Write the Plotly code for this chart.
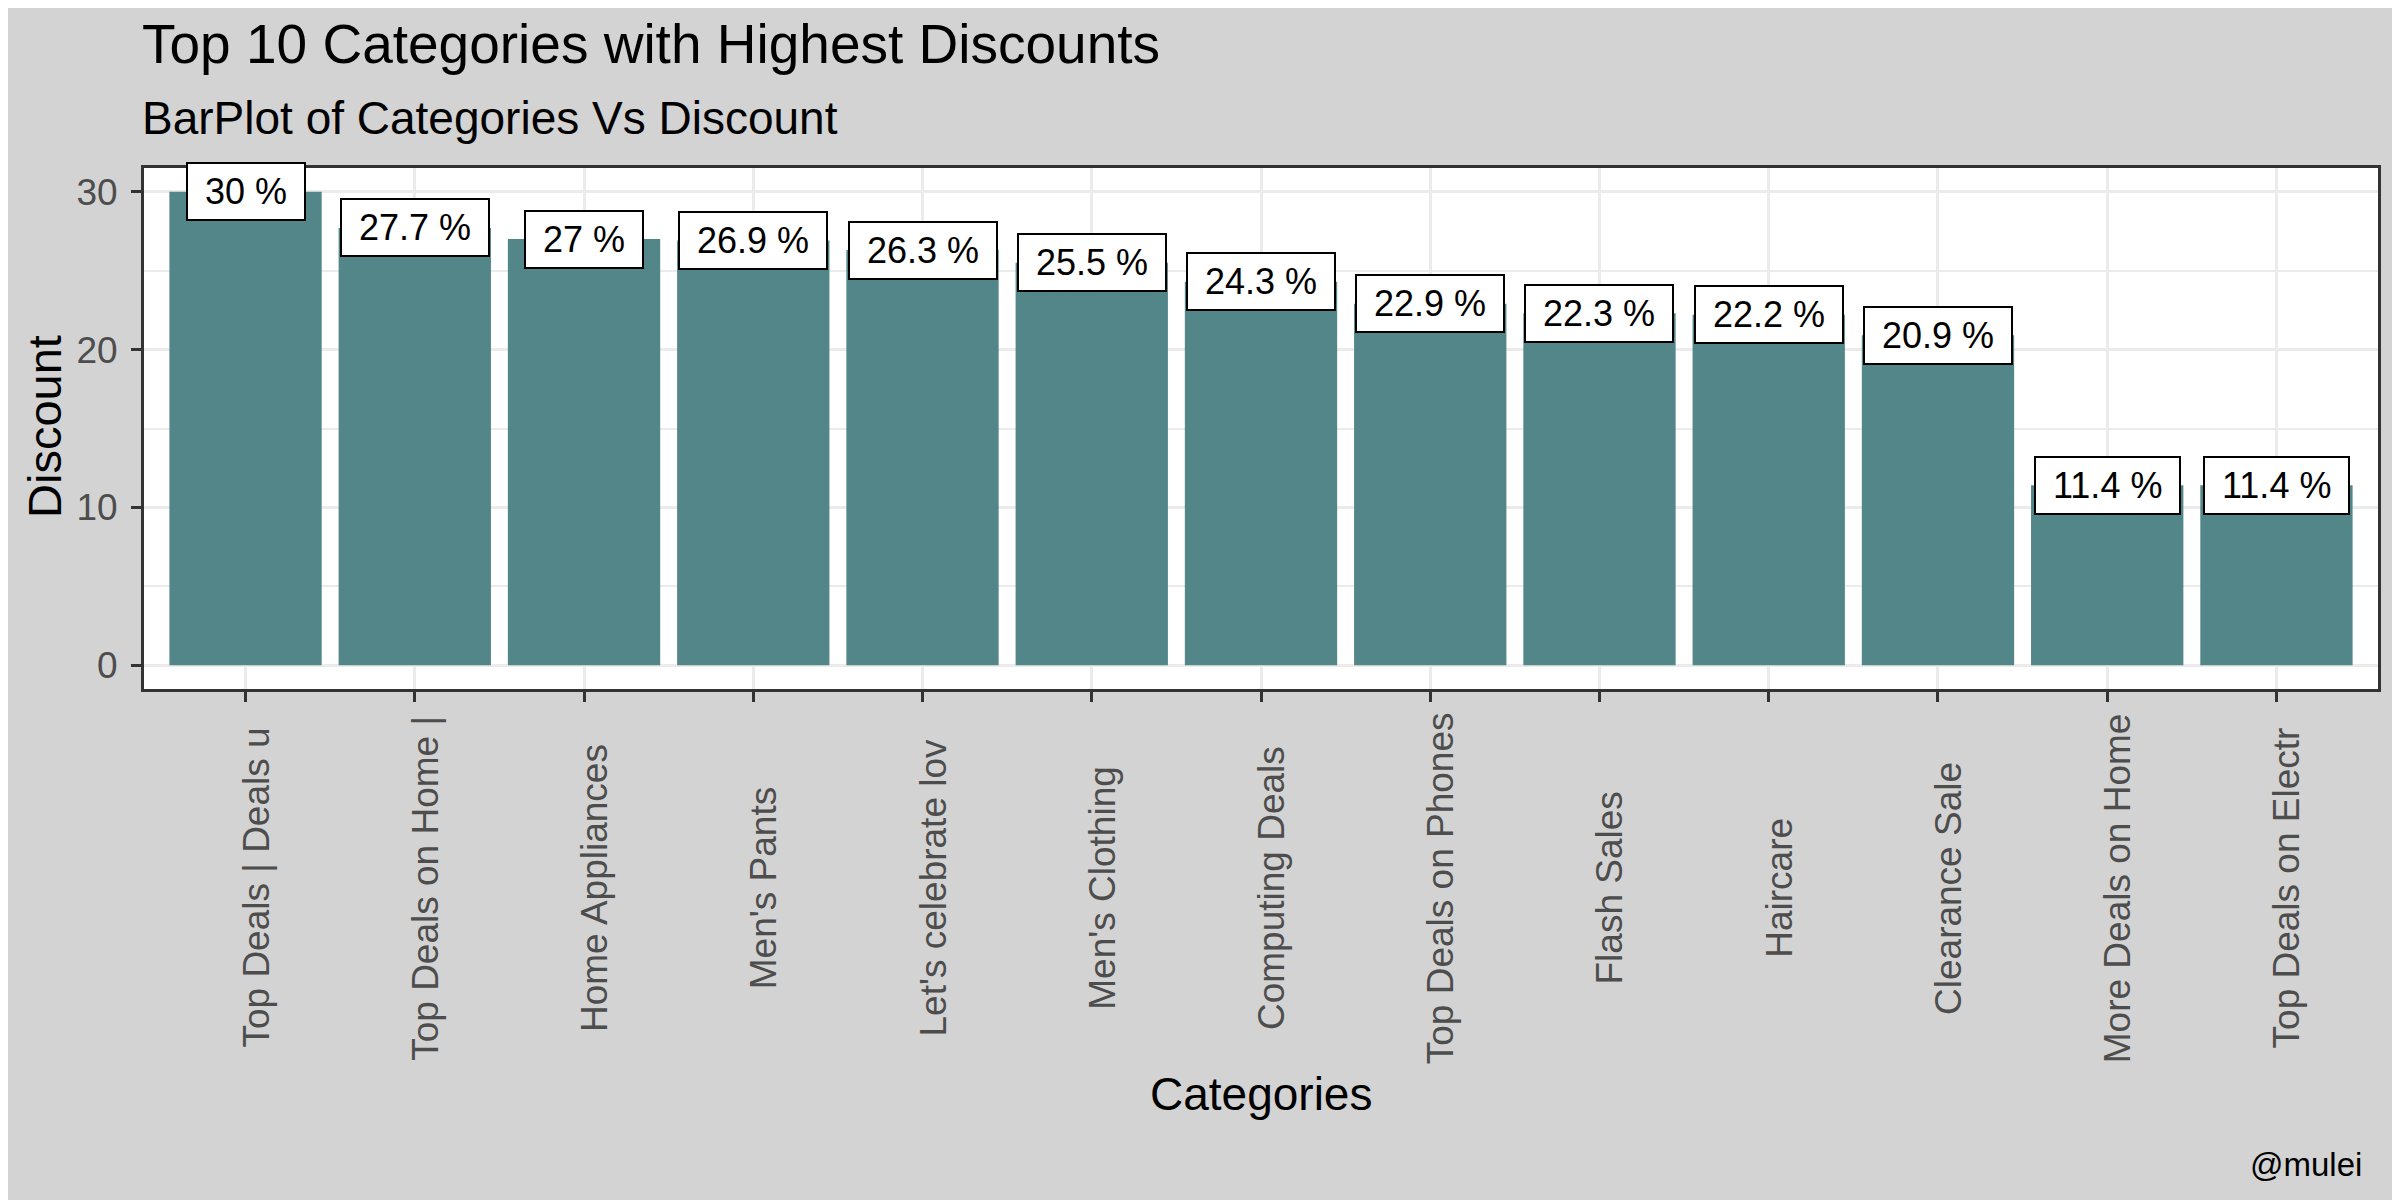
import plotly.graph_objects as go

categories = ["Top Deals | Deals u", "Top Deals on Home |", "Home Appliances", "Men's Pants",
              "Let's celebrate lov", "Men's Clothing", "Computing Deals", "Top Deals on Phones",
              "Flash Sales", "Haircare", "Clearance Sale", "More Deals on Home", "Top Deals on Electr"]
discounts = [30, 27.7, 27, 26.9, 26.3, 25.5, 24.3, 22.9, 22.3, 22.2, 20.9, 11.4, 11.4]
y_ticks = [0, 10, 20, 30]

title = "Top 10 Categories with Highest Discounts"
subtitle = "BarPlot of Categories Vs Discount"
caption = "@mulei"

FONT = "Arial, Liberation Sans, sans-serif"
L, R, T, B = 136, 30, 160, 519
W, H = 2400, 1200
ph = H - T - B
pw = W - L - R

def py(ypix):
    return (H - B - ypix) / ph

def px(xpix):
    return (xpix - L) / pw

fig = go.Figure()
fig.add_trace(go.Bar(x=categories, y=discounts, width=0.9, marker=dict(color="#538689", line=dict(width=0)),
                     hoverinfo="x+y"))

annotations = []
for c, v in zip(categories, discounts):
    annotations.append(dict(x=c, y=v, xref="x", yref="y", text=f"\u00a0{v:g} %\u00a0", showarrow=False,
                            font=dict(family=FONT, size=36, color="black"), bgcolor="white",
                            bordercolor="black", borderwidth=2, borderpad=7,
                            xanchor="center", yanchor="middle"))
    annotations.append(dict(x=c, y=py(880), xref="x", yref="paper", text=c, showarrow=False,
                            textangle=-90, xshift=10,
                            font=dict(family=FONT, size=37, color="#4D4D4D"),
                            xanchor="center", yanchor="middle"))

annotations += [
    dict(x=0, y=py(36), xref="paper", yref="paper", text=title, showarrow=False, xshift=-4,
         font=dict(family=FONT, size=55, color="black"), xanchor="left", yanchor="middle"),
    dict(x=0, y=py(110), xref="paper", yref="paper", text=subtitle, showarrow=False, xshift=-4,
         font=dict(family=FONT, size=46, color="black"), xanchor="left", yanchor="middle"),
    dict(x=px(36), y=py(419), xref="paper", yref="paper", text="Discount",
         showarrow=False, textangle=-90, font=dict(family=FONT, size=47, color="black"),
         xanchor="center", yanchor="middle"),
    dict(x=0.5, y=py(1086), xref="paper", yref="paper", text="Categories", showarrow=False,
         font=dict(family=FONT, size=46, color="black"), xanchor="center", yanchor="middle"),
    dict(x=px(2356), y=py(1156), xref="paper", yref="paper", text=caption,
         showarrow=False, font=dict(family=FONT, size=33, color="black"),
         xanchor="right", yanchor="middle"),
]

fig.update_layout(
    width=W, height=H,
    paper_bgcolor="#D3D3D3", plot_bgcolor="white",
    margin=dict(l=L, r=R, t=T, b=B),
    showlegend=False, bargap=0.1,
    annotations=annotations,
    font=dict(family=FONT),
)
axis_common = dict(showline=True, mirror=True, linecolor="#333333", linewidth=3,
                   ticks="outside", ticklen=10, tickwidth=3, tickcolor="#333333",
                   gridcolor="#EBEBEB", gridwidth=3, zeroline=False)
fig.update_xaxes(type="category", range=[-0.6, len(categories) - 0.4], showticklabels=False,
                 showgrid=True, **axis_common)
fig.update_yaxes(range=[-1.5, 31.5], tickvals=y_ticks, showgrid=True, ticklabelstandoff=6,
                 tickfont=dict(family=FONT, size=37, color="#4D4D4D"),
                 minor=dict(dtick=5, tick0=0, showgrid=True, gridcolor="#EBEBEB", gridwidth=1.5, ticks=""),
                 **axis_common)

fig.write_html("out.html")
